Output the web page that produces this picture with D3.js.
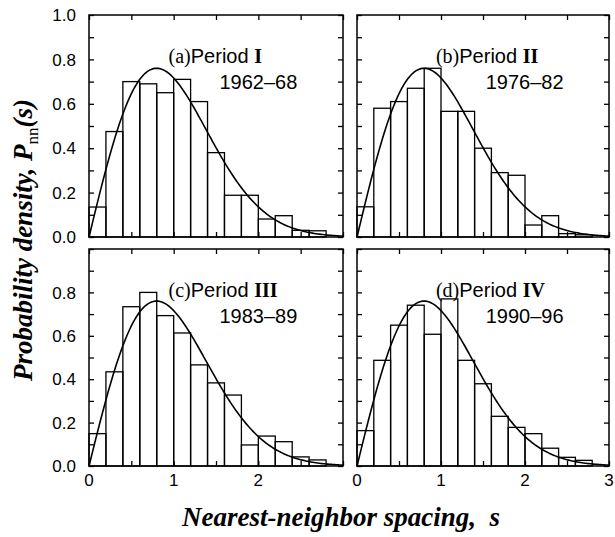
<!DOCTYPE html>
<html><head><meta charset="utf-8">
<script src="https://cdn.jsdelivr.net/npm/d3@7"></script>
<style>body{margin:0;background:#fff}text{fill:#000}</style>
</head><body>
<svg id="svgId" width="615" height="537"></svg>
<script>
// histogram bin heights, bin width 0.2 from s=0
const binWidth = 0.2;
const periodA = [0.135, 0.475, 0.70, 0.69, 0.65, 0.71, 0.61, 0.38, 0.188, 0.188, 0.081, 0.096, 0.03, 0.028];
const periodB = [0.136, 0.58, 0.61, 0.67, 0.76, 0.566, 0.566, 0.40, 0.29, 0.278, 0.054, 0.096, 0.015, 0.01];
const periodC = [0.149, 0.434, 0.734, 0.80, 0.693, 0.613, 0.466, 0.383, 0.327, 0.097, 0.138, 0.112, 0.042, 0.028];
const periodD = [0.163, 0.487, 0.649, 0.741, 0.607, 0.77, 0.487, 0.379, 0.229, 0.178, 0.149, 0.082, 0.04, 0.026];
const tags = ["(a)", "(b)", "(c)", "(d)"];
const romans = ["I", "II", "III", "IV"];
const years = ["1962\u201368", "1976\u201382", "1983\u201389", "1990\u201396"];
const yTicksTop = [0, 0.2, 0.4, 0.6, 0.8, 1.0];
const yTicksBottom = [0, 0.2, 0.4, 0.6, 0.8];
const xTicksLeft = [0, 1, 2];
const xTicksRight = [0, 1, 2, 3];

const svg = d3.select("svg");
const serif = "'Liberation Serif','Times New Roman',serif";
const sans = "'Liberation Sans',Arial,sans-serif";

// Wigner surmise
const wigner = s => Math.PI / 2 * s * Math.exp(-Math.PI * s * s / 4);
const curve = d3.range(0, 3.001, 0.02);

const panels = [
  {data: periodA, x0: 89, x1: 343, y0: 15, y1: 237, yt: yTicksTop, xt: null},
  {data: periodB, x0: 357, x1: 609, y0: 15, y1: 237, yt: null, xt: null},
  {data: periodC, x0: 89, x1: 343, y0: 249, y1: 466, yt: yTicksBottom, xt: xTicksLeft},
  {data: periodD, x0: 357, x1: 609, y0: 249, y1: 466, yt: null, xt: xTicksRight}
];

panels.forEach(function (p, i) {
  const x = d3.scaleLinear().domain([0, 3]).range([p.x0, p.x1]);
  const y = d3.scaleLinear().domain([0, 1]).range([p.y1, p.y0]);
  const g = svg.append("g");

  g.selectAll("rect.bar").data(p.data).enter().append("rect")
    .attr("x", (d, j) => x(j * binWidth))
    .attr("width", x(binWidth) - x(0))
    .attr("y", d => y(d))
    .attr("height", d => y(0) - y(d))
    .attr("fill", "none").attr("stroke", "#000").attr("stroke-width", 1.3);

  g.append("path").datum(curve)
    .attr("d", d3.line().x(s => x(s)).y(s => y(wigner(s))))
    .attr("fill", "none").attr("stroke", "#000").attr("stroke-width", 1.6);

  // ticks, inward on all sides
  const ax = [
    d3.axisBottom(x).tickValues(d3.range(0, 3.01, 0.5)).tickSize(-5),
    d3.axisTop(x).tickValues(d3.range(0, 3.01, 0.5)).tickSize(-5),
    d3.axisLeft(y).tickValues(d3.range(0, 1.01, 0.1)).tickSize(-5),
    d3.axisRight(y).tickValues(d3.range(0, 1.01, 0.1)).tickSize(-5)
  ];
  const pos = [[0, p.y1], [0, p.y0], [p.x0, 0], [p.x1, 0]];
  ax.forEach(function (a, k) {
    const t = g.append("g").attr("transform", `translate(${pos[k][0]},${pos[k][1]})`).call(a.tickFormat(""));
    t.select(".domain").remove();
    t.selectAll("line").attr("stroke-width", 1.3);
  });
  g.append("rect").attr("x", p.x0).attr("y", p.y0).attr("width", p.x1 - p.x0).attr("height", p.y1 - p.y0)
    .attr("fill", "none").attr("stroke", "#000").attr("stroke-width", 1.5);

  if (p.yt) {
    g.selectAll("text.yl").data(p.yt).enter().append("text")
      .attr("x", p.x0 - 13).attr("y", d => y(d)).attr("dy", "0.36em")
      .attr("text-anchor", "end").style("font-family", sans).style("font-size", "17px")
      .text(d => d.toFixed(1));
  }
  if (p.xt) {
    g.selectAll("text.xl").data(p.xt).enter().append("text")
      .attr("x", d => x(d)).attr("y", p.y1 + 20)
      .attr("text-anchor", "middle").style("font-family", sans).style("font-size", "17px")
      .text(d => d);
  }

  const lab = g.append("text").attr("x", x(0.94)).attr("y", p.y0 + 48).style("font-size", "20px");
  lab.append("tspan").style("font-family", serif).text(tags[i]);
  lab.append("tspan").style("font-family", sans).text("Period ");
  lab.append("tspan").style("font-family", serif).style("font-weight", "bold").text(romans[i]);
  g.append("text").attr("x", x(2.46)).attr("y", p.y0 + 74).attr("text-anchor", "end")
    .style("font-family", sans).style("font-size", "20px").text(years[i]);
});

const yl = svg.append("text").attr("transform", "translate(32,240) rotate(-90)")
  .attr("text-anchor", "middle").style("font-family", serif).style("font-size", "27px")
  .style("font-weight", "bold").style("font-style", "italic");
yl.append("tspan").text("Probability density, P");
yl.append("tspan").attr("dy", 6).style("font-size", "17px").style("font-style", "normal").style("font-weight", "normal").text("nn");
yl.append("tspan").attr("dy", -6).text("(s)");

svg.append("text").attr("x", 341).attr("y", 526).attr("text-anchor", "middle")
  .style("font-family", serif).style("font-size", "27px").style("font-weight", "bold").style("font-style", "italic")
  .attr("xml:space", "preserve").text("Nearest-neighbor spacing,  s");
</script>
</body></html>
